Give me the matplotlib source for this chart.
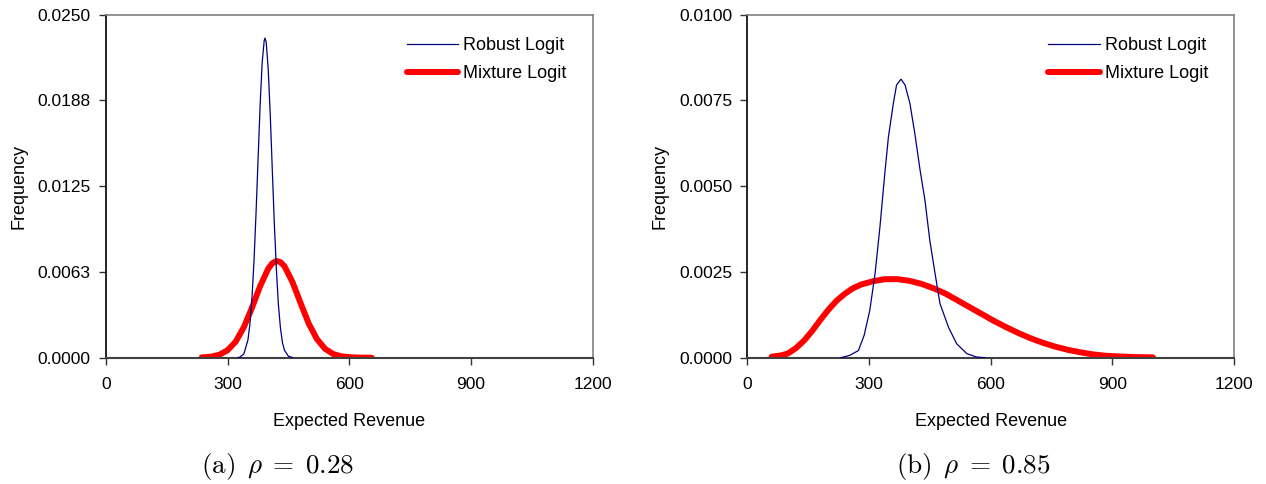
import matplotlib
matplotlib.use("Agg")
import matplotlib.pyplot as plt

plt.rcParams['font.family'] = ['Liberation Sans', 'DejaVu Sans']
plt.rcParams['mathtext.fontset'] = 'cm'

# ---- data ----
# panel (a) rho = 0.28
robust_a_x = [325, 330, 340, 350, 355, 360, 365, 370, 375, 380, 385, 390, 392, 395,
              400, 405, 410, 415, 420, 425, 430, 435, 440, 450, 460]
robust_a_y = [0.0, 0.00004, 0.00028, 0.0013, 0.0025, 0.0044, 0.0071, 0.0106, 0.0145,
              0.0184, 0.0215, 0.0231, 0.0233, 0.0230, 0.0210, 0.0177, 0.0137, 0.0098,
              0.0065, 0.0039, 0.0022, 0.0011, 0.00054, 0.0001, 0.00001]
mixture_a_x = [236, 260, 280, 300, 320, 340, 360, 380, 400, 410, 420, 430, 440, 460,
               480, 500, 520, 540, 560, 580, 600, 620, 655]
mixture_a_y = [0.00002, 0.00008, 0.00022, 0.00055, 0.00118, 0.00223, 0.00365, 0.00521,
               0.00649, 0.00688, 0.00705, 0.00697, 0.00667, 0.00550, 0.00396, 0.00248,
               0.00136, 0.00065, 0.00027, 0.0001, 0.00004, 0.00001, 0.0]

# panel (b) rho = 0.85
robust_b_x = [231, 253, 274, 288, 302, 315, 327, 339, 348, 360, 368, 379, 389, 401,
              413, 426, 438, 450, 463, 475, 496, 516, 541, 565, 586]
robust_b_y = [0.0, 0.00007, 0.00021, 0.00065, 0.00138, 0.00245, 0.00381, 0.00537,
              0.00644, 0.00741, 0.00795, 0.00812, 0.00795, 0.00741, 0.00654, 0.00547,
              0.00459, 0.00342, 0.00245, 0.00158, 0.00089, 0.00041, 0.00012, 0.00002, 0.0]
mixture_b_x = [60, 80, 100, 120, 140, 160, 180, 200, 220, 240, 260, 280, 310, 340, 370,
               400, 430, 460, 490, 520, 550, 580, 610, 640, 670, 700, 730, 760, 790,
               820, 850, 880, 910, 950, 1000]
mixture_b_y = [0.00003, 0.00006, 0.00012, 0.00028, 0.00050, 0.00078, 0.00110, 0.00140,
               0.00166, 0.00186, 0.00202, 0.00213, 0.00223, 0.00229, 0.00229, 0.00224,
               0.00215, 0.00202, 0.00186, 0.00166, 0.00146, 0.00126, 0.00106, 0.00088,
               0.00071, 0.00056, 0.00043, 0.00032, 0.00023, 0.00016, 0.00010, 0.00006,
               0.00004, 0.00002, 0.00001]

x_ticks = [0, 300, 600, 900, 1200]
y_ticks_a = [0.0, 0.00625, 0.0125, 0.01875, 0.025]
y_labels_a = ["0.0000", "0.0063", "0.0125", "0.0188", "0.0250"]
y_ticks_b = [0.0, 0.0025, 0.005, 0.0075, 0.01]
y_labels_b = ["0.0000", "0.0025", "0.0050", "0.0075", "0.0100"]
series_names = ["Robust Logit", "Mixture Logit"]
captions = [r"$\mathrm{(a)}\ \,\rho\;=\;0.28$", r"$\mathrm{(b)}\ \,\rho\;=\;0.85$"]

W, H = 1266, 484
fig = plt.figure(figsize=(W / 100, H / 100), dpi=100)

rects = [
    (106 / W, (H - 357.7) / H, 486.7 / W, 343 / H),
    (747.3 / W, (H - 357.7) / H, 486.7 / W, 343 / H),
]
panels = [
    (robust_a_x, robust_a_y, mixture_a_x, mixture_a_y, y_ticks_a, y_labels_a),
    (robust_b_x, robust_b_y, mixture_b_x, mixture_b_y, y_ticks_b, y_labels_b),
]
caption_x = [278 / W, 973 / W]

for i, (rect, p) in enumerate(zip(rects, panels)):
    rx, ry, mx, my, yt, yl = p
    ax = fig.add_axes(rect)
    ax.plot(rx, ry, color='#000080', lw=0.9, label=series_names[0], zorder=3)
    ax.plot(mx, my, color='#ff0000', lw=4.3, label=series_names[1],
            solid_capstyle='round', zorder=2)
    ax.set_xlim(0, 1200)
    ax.set_ylim(yt[0], yt[-1])
    ax.set_xticks(x_ticks)
    ax.set_xticklabels([str(t) for t in x_ticks])
    ax.set_yticks(yt)
    ax.set_yticklabels(yl)
    ax.tick_params(axis='both', direction='out', length=5, width=1, color='#333333',
                   labelsize=12.5, labelcolor='black')
    ax.tick_params(axis='x', pad=9)
    ax.tick_params(axis='y', pad=6)
    for s in ['top', 'right']:
        ax.spines[s].set_color('#808080')
        ax.spines[s].set_linewidth(1.2)
    ax.spines['left'].set_color('black')
    ax.spines['left'].set_linewidth(1.2)
    ax.spines['bottom'].set_color('#404040')
    ax.spines['bottom'].set_linewidth(1.5)
    ax.set_xlabel("Expected Revenue", fontsize=13, labelpad=15)
    ax.set_ylabel("Frequency", fontsize=13)
    ax.yaxis.set_label_coords(-(106 - 27) / 486.7, 0.5)
    ax.legend(loc='upper left', bbox_to_anchor=(0.618, 0.935), frameon=False,
              fontsize=13, handlelength=2.85, handletextpad=0.28,
              labelspacing=0.62, borderpad=0, borderaxespad=0)
    fig.text(caption_x[i], 1 - 466 / H, captions[i], fontsize=19.5,
             ha='center', va='center')

fig.savefig("out.png", dpi=100)
